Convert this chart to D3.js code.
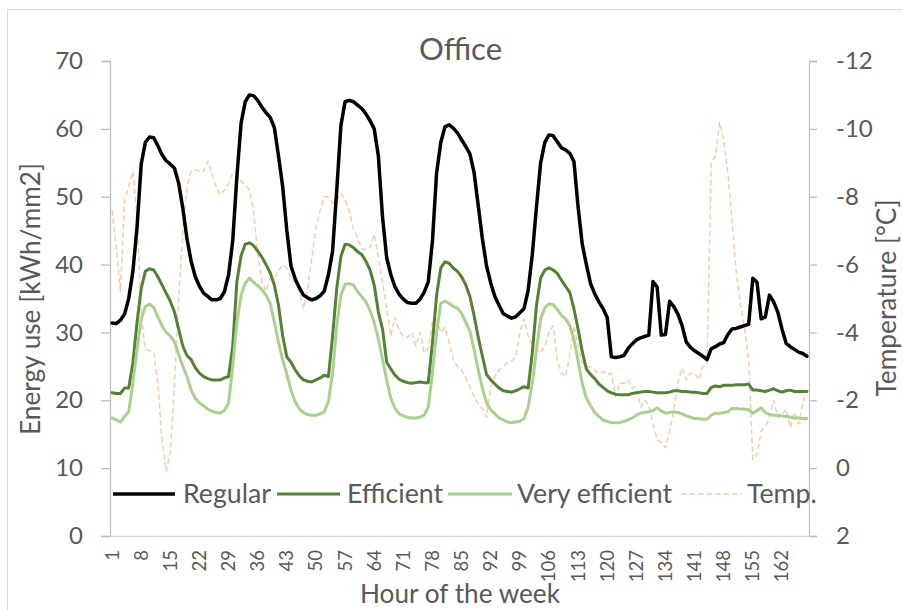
<!DOCTYPE html>
<html>
<head>
<meta charset="utf-8">
<script src="https://cdn.jsdelivr.net/npm/d3@7"></script>
<style>
  html, body { margin: 0; padding: 0; background: #fff; }
  svg { display: block; }
  text { font-family: Lato, "Open Sans", sans-serif; fill: #595959; }
</style>
</head>
<body>
<svg id="chart" width="902" height="610"></svg>
<script>
// ---------- data ----------
const title = "Office";
const xAxisTitle = "Hour of the week";
const yAxisTitle = "Energy use [kWh/mm2]";
const y2AxisTitle = "Temperature [°C]";
const seriesNames = ["Regular", "Efficient", "Very efficient", "Temp."];
const hours = d3.range(1, 169);
const hourTickLabels = [1, 8, 15, 22, 29, 36, 43, 50, 57, 64, 71, 78, 85, 92, 99, 106, 113, 120, 127, 134, 141, 148, 155, 162];
const energyTicks = [0, 10, 20, 30, 40, 50, 60, 70];
const tempTicks = [-12, -10, -8, -6, -4, -2, 0, 2];

const regular = [
  31.4, 31.3, 31.8, 32.7, 35.0, 39.0, 45.5, 54.8, 58.0, 58.8,
  58.7, 57.5, 56.2, 55.3, 54.8, 54.2, 52.0, 48.3, 43.8, 40.5,
  38.2, 36.8, 35.8, 35.3, 34.8, 34.8, 35.0, 36.0, 38.5, 43.5,
  53.0, 60.8, 64.0, 65.0, 64.9, 64.2, 63.2, 62.4, 61.7, 60.2,
  56.0, 51.5, 45.0, 39.8, 37.9, 36.6, 35.5, 35.1, 34.8, 35.0,
  35.4, 36.1, 38.5, 42.0, 51.0, 60.5, 64.0, 64.2, 64.0, 63.5,
  63.0, 62.2, 61.2, 60.0, 56.0, 47.0, 41.0, 38.5, 36.7, 35.6,
  34.9, 34.4, 34.3, 34.3, 34.9, 35.9, 37.5, 43.5, 53.5, 58.0,
  60.3, 60.6, 60.1, 59.4, 58.4, 57.4, 56.3, 53.6, 48.7, 43.8,
  39.8, 37.3, 35.3, 34.0, 32.8, 32.4, 32.1, 32.3, 32.9, 33.5,
  36.2, 41.5, 48.5, 55.0, 58.0, 59.1, 59.0, 58.1, 57.2, 56.9,
  56.4, 55.2, 48.5, 43.0, 40.0, 37.2, 35.7, 34.5, 33.5, 32.2,
  26.4, 26.3, 26.4, 26.6, 27.6, 28.3, 28.9, 29.2, 29.4, 29.6,
  37.5, 36.7, 29.6, 29.7, 34.6, 33.8, 32.7, 31.0, 28.6, 27.8,
  27.3, 26.9, 26.5, 26.0, 27.6, 27.9, 28.3, 28.5, 29.7, 30.5,
  30.6, 30.8, 31.0, 31.2, 38.0, 37.4, 32.0, 32.3, 35.5, 34.5,
  33.0, 30.5, 28.4, 27.9, 27.5, 27.1, 26.9, 26.5
];

const efficient = [
  21.1, 21.0, 21.0, 21.8, 21.8, 25.5, 31.5, 36.5, 39.0, 39.4,
  39.2, 38.2, 37.0, 35.8, 34.6, 33.0, 30.5, 28.0, 26.6, 26.0,
  24.8, 24.0, 23.5, 23.2, 23.0, 23.0, 23.0, 23.3, 23.5, 28.0,
  37.5, 41.3, 43.0, 43.2, 42.8, 42.0, 41.1, 40.0, 38.8, 37.0,
  34.0, 29.5, 26.4, 25.6, 24.5, 23.6, 23.0, 22.8, 22.7, 23.0,
  23.3, 23.7, 23.5, 29.5, 36.5, 41.2, 43.0, 42.9, 42.5, 41.9,
  41.5, 40.5, 39.2, 37.0, 33.0, 30.5, 25.6, 24.6, 23.7, 23.1,
  22.8, 22.6, 22.5, 22.6, 22.7, 22.6, 22.6, 28.5, 35.5, 39.5,
  40.4, 40.2, 39.5, 39.0, 38.2, 37.0, 35.3, 32.5, 29.3, 26.5,
  23.8, 23.0, 22.4, 21.8, 21.4, 21.3, 21.2, 21.4, 21.7, 22.0,
  21.8, 27.0, 34.0, 38.0, 39.2, 39.5, 39.2, 38.7, 37.7, 36.8,
  35.9, 33.5, 30.5, 27.2, 24.6, 23.8, 23.2, 22.4, 21.9, 21.4,
  21.1, 20.9, 20.8, 20.8, 20.8, 21.0, 21.1, 21.2, 21.3, 21.3,
  21.2, 21.1, 21.1, 21.1, 21.2, 21.4, 21.4, 21.3, 21.3, 21.2,
  21.2, 21.1, 21.0, 21.0, 21.9, 22.1, 22.0, 22.2, 22.2, 22.2,
  22.3, 22.3, 22.3, 22.4, 21.5, 21.5, 21.4, 21.3, 21.5, 21.7,
  21.4, 21.2, 21.4, 21.5, 21.3, 21.3, 21.3, 21.3
];

const veryEfficient = [
  17.4, 17.1, 16.8, 17.6, 18.3, 22.5, 27.5, 32.0, 33.8, 34.2,
  33.7, 32.3, 31.0, 30.0, 29.5, 28.6, 26.8, 25.0, 23.5, 21.5,
  20.3, 19.6, 19.2, 18.7, 18.4, 18.2, 18.1, 18.5, 19.6, 25.0,
  31.5, 35.5, 37.3, 38.0, 37.4, 36.9, 36.3, 35.5, 34.3, 31.5,
  28.5, 26.0, 23.8, 21.5, 19.8, 18.7, 18.2, 17.9, 17.8, 17.8,
  18.0, 18.3, 19.8, 24.0, 31.0, 35.5, 37.1, 37.2, 37.0, 36.0,
  35.3, 34.5, 33.2, 31.5, 29.0, 26.0, 23.0, 20.3, 18.8, 18.0,
  17.7, 17.5, 17.4, 17.4, 17.5, 17.8, 19.0, 24.0, 30.0, 34.3,
  34.6, 34.3, 33.8, 33.6, 32.8, 31.5, 30.2, 27.5, 24.5, 21.8,
  19.6, 18.6, 18.0, 17.4, 17.1, 16.8, 16.7, 16.8, 16.9, 17.3,
  19.0, 22.5, 27.5, 32.0, 33.6, 34.2, 34.1, 33.4, 32.5, 32.0,
  31.0, 29.0, 25.8, 22.5, 20.3, 19.2, 18.2, 17.6, 17.1, 16.9,
  16.7, 16.7, 16.7, 16.9, 17.1, 17.4, 17.8, 18.1, 18.2, 18.3,
  18.5, 18.9, 18.4, 18.1, 18.2, 18.3, 18.2, 18.0, 17.7, 17.5,
  17.3, 17.3, 17.2, 17.2, 17.8, 18.1, 18.1, 18.2, 18.3, 18.8,
  18.8, 18.7, 18.7, 18.6, 18.1, 18.5, 18.9, 18.2, 17.9, 17.8,
  17.8, 17.7, 17.6, 17.5, 17.4, 17.4, 17.3, 17.3
];

const temperature = [
  -7.6, -6.5, -5.2, -7.9, -8.3, -8.75, -7.4, -4.5, -3.5, -3.47,
  -3.4, -2.5, -0.8, 0.1, -0.5, -2.5, -5.0, -7.0, -8.3, -8.75,
  -8.8, -8.75, -8.75, -9.05, -8.7, -8.3, -8.05, -8.2, -8.4, -8.7,
  -8.65, -8.45, -8.35, -8.2, -7.6, -6.3, -5.5, -5.2, -5.6, -5.6,
  -5.8, -6.0, -5.9, -5.6, -5.45, -5.2, -4.7, -5.3, -6.2, -7.1,
  -7.6, -8.0, -8.0, -7.8, -7.9, -8.1, -7.9, -7.6, -7.05, -6.8,
  -6.45, -6.45, -6.5, -6.9, -6.2, -5.5, -4.7, -3.9, -4.45, -4.05,
  -3.9, -3.85, -4.0, -3.6, -4.0, -3.4, -3.55, -4.3, -4.4, -4.0,
  -4.15, -3.7, -3.2, -3.0, -2.9, -2.67, -2.4, -2.1, -1.9, -1.75,
  -1.5, -2.4, -2.7, -2.9, -3.0, -3.1, -3.15, -3.3, -4.0, -4.4,
  -3.9, -3.65, -3.5, -3.4, -3.6, -4.0, -4.2, -3.15, -2.8, -2.7,
  -3.3, -4.2, -3.6, -3.1, -3.0, -2.98, -2.9, -2.8, -2.85, -2.75,
  -2.8, -2.1, -2.5, -2.5, -2.6, -2.35, -2.4, -1.8, -2.0, -1.85,
  -1.3, -0.85, -0.75, -0.6, -1.1, -1.7, -2.55, -2.95, -2.6, -2.8,
  -2.8, -2.6, -3.0, -3.1, -9.0, -9.2, -10.2, -9.65, -8.7, -7.3,
  -5.8, -4.85, -4.1, -3.2, -0.25, -0.4, -1.1, -1.2, -1.5, -2.0,
  -1.5, -1.55, -1.75, -1.2, -1.65, -1.3, -1.9, -2.3
];

// ---------- layout ----------
const svg = d3.select("#chart");
const W = 902, H = 610;
const plot = { left: 110, right: 809, top: 61, bottom: 536 };
const axisColor = "#BFBFBF";
const baseAxisColor = "#D9D9D9";
const colors = ["#000000", "#548235", "#A9D18E", "#F8CBAD"];
const widths = [3.5, 3, 3, 1.5];

// chart frame
svg.append("rect")
  .attr("x", 7.5).attr("y", 9.5).attr("width", W).attr("height", H)
  .attr("fill", "#fff").attr("stroke", "#D9D9D9").attr("stroke-width", 1);

const x = d3.scaleBand().domain(hours).range([plot.left, plot.right]).padding(0);
const xc = h => x(h) + x.bandwidth() / 2;
const yL = d3.scaleLinear().domain([0, 70]).range([plot.bottom, plot.top]);
const yR = d3.scaleLinear().domain([-12, 2]).range([plot.top, plot.bottom]);

function fitFont(sel, targetWidth) {
  sel.style("font-size", "100px");
  const len = sel.node().getComputedTextLength();
  const fs = 100 * targetWidth / len;
  sel.style("font-size", fs + "px");
  return fs;
}

// left axis
const leftAxis = d3.axisLeft(yL).tickValues(energyTicks).tickSize(9).tickFormat(d => String(d));
const gL = svg.append("g").attr("transform", `translate(${plot.left},0)`).call(leftAxis);
gL.select(".domain").attr("stroke", axisColor).attr("stroke-width", 1.3);
gL.selectAll(".tick line").attr("stroke", axisColor).attr("stroke-width", 1.3);
gL.selectAll(".tick text").style("font-size", "24px").attr("fill", "#595959")
  .attr("font-family", "Lato, sans-serif").attr("x", -27);

// right axis
const rightAxis = d3.axisRight(yR).tickValues(tempTicks).tickSize(8).tickFormat(d => String(d));
const gR = svg.append("g").attr("transform", `translate(${plot.right},0)`).call(rightAxis);
gR.select(".domain").attr("stroke", axisColor).attr("stroke-width", 1.3);
gR.selectAll(".tick line").attr("stroke", axisColor).attr("stroke-width", 1.3);
gR.selectAll(".tick text").style("font-size", "24px").attr("fill", "#595959")
  .attr("font-family", "Lato, sans-serif").attr("x", 27);

// bottom axis (category labels only)
const bottomAxis = d3.axisBottom(x).tickValues(hourTickLabels).tickSize(0).tickPadding(0);
const gB = svg.append("g").attr("transform", `translate(0,${plot.bottom})`).call(bottomAxis);
gB.select(".domain").attr("stroke", baseAxisColor).attr("stroke-width", 1.5);
gB.selectAll(".tick text")
  .attr("font-family", "Lato, sans-serif")
  .style("font-size", "18.5px").attr("fill", "#595959")
  .attr("text-anchor", "end")
  .attr("transform", "translate(0,14) rotate(-90)")
  .attr("x", 0).attr("y", 0).attr("dy", "0.35em");

// series
const lineL = d3.line().x((d, i) => xc(hours[i])).y(d => yL(d));
const lineR = d3.line().x((d, i) => xc(hours[i])).y(d => yR(d));
svg.append("path").datum(temperature).attr("d", lineR)
  .attr("fill", "none").attr("stroke", colors[3]).attr("stroke-width", widths[3])
  .attr("stroke-dasharray", "5.5,3").attr("stroke-linejoin", "round");
[regular, efficient, veryEfficient].forEach((s, k) => {
  svg.append("path").datum(s).attr("d", lineL)
    .attr("fill", "none").attr("stroke", colors[k]).attr("stroke-width", widths[k])
    .attr("stroke-linejoin", "round").attr("stroke-linecap", "round");
});

// legend
const legendY = 494;
const legendItems = [
  { x0: 113, x1: 175, tx: 183 },
  { x0: 277, x1: 340, tx: 347 },
  { x0: 448, x1: 512, tx: 517 },
  { x0: 681, x1: 742, tx: 747 }
];
const lg = svg.append("g");
const probe = lg.append("text").text(seriesNames[2]);
const legendFs = fitFont(probe, 155);
probe.remove();
legendItems.forEach((it, i) => {
  lg.append("line").attr("x1", it.x0).attr("x2", it.x1).attr("y1", legendY).attr("y2", legendY)
    .attr("stroke", colors[i]).attr("stroke-width", widths[i])
    .attr("stroke-dasharray", i === 3 ? "5.5,3" : null);
  lg.append("text").attr("x", it.tx).attr("y", legendY).attr("dy", "0.35em")
    .style("font-size", legendFs + "px").text(seriesNames[i]);
});

// titles
const t = svg.append("text").attr("x", 460.5).attr("y", 60).attr("text-anchor", "middle").text(title);
fitFont(t, 83);

const xt = svg.append("text").attr("x", 460).attr("y", 603).attr("text-anchor", "middle").text(xAxisTitle);
fitFont(xt, 200);

const yt = svg.append("text").attr("text-anchor", "middle")
  .attr("transform", "translate(40,299) rotate(-90)").text(yAxisTitle);
fitFont(yt, 272);

const y2t = svg.append("text").attr("text-anchor", "middle")
  .attr("transform", "translate(896,298) rotate(-90)").text(y2AxisTitle);
fitFont(y2t, 197);
</script>
</body>
</html>
